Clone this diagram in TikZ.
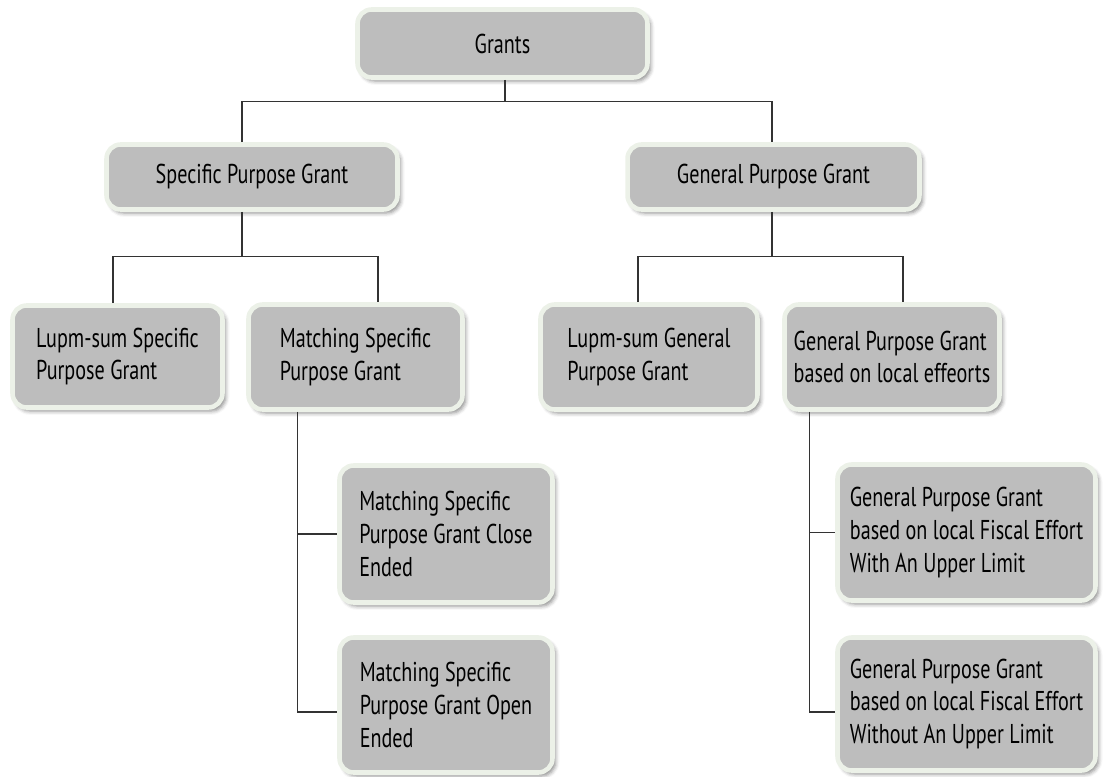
\documentclass[tikz,border=0pt]{standalone}
\usepackage{fontspec}
\setmainfont[FakeStretch=0.74]{PT Sans}
\usepackage{tikz}
\usetikzlibrary{shapes,arrows,positioning,shadows.blur,calc}
\definecolor{boxgray}{RGB}{189,189,189}
\definecolor{boxrim}{RGB}{236,241,232}
\definecolor{linegray}{RGB}{51,51,51}

\begin{document}
\begin{tikzpicture}[x=0.02cm, y=-0.02cm,
    grantbox/.style={draw=boxrim, fill=boxgray, line width=2.6pt, rounded corners=8pt, align=left, inner sep=2pt,
        font=\fontsize{15.5}{18.7}\selectfont, text=black,
        blur shadow={shadow xshift=1.8pt, shadow yshift=-2pt, shadow blur radius=2.2pt, shadow opacity=45}},
    conn/.style={draw=linegray, line width=0.8pt}]
    \useasboundingbox (0,0) rectangle (1106,777);

    % Grants
    \node[grantbox, minimum width=5.8cm, minimum height=1.36cm] (grants) at (502.5,43.5) {Grants};

    % Specific / General
    \node[grantbox, minimum width=5.82cm, minimum height=1.3cm] (spg) at (252,177) {Specific Purpose Grant};
    \node[grantbox, minimum width=5.84cm, minimum height=1.3cm] (gpg) at (773.5,177) {General Purpose Grant};

    % Third row
    \node[grantbox, minimum width=4.2cm, minimum height=2.04cm] (lsspg) at (117.5,356.5) {Lupm-sum Specific\\Purpose Grant};
    \node[grantbox, minimum width=4.28cm, minimum height=2.1cm] (mspg) at (355.5,357) {Matching Specific\\Purpose Grant};
    \node[grantbox, minimum width=4.34cm, minimum height=2.1cm] (lsgpg) at (649,357) {Lupm-sum General\\Purpose Grant};
    \node[grantbox, minimum width=4.3cm, minimum height=2.1cm] (gpgle) at (892,357) {General Purpose Grant\\based on local effeorts};

    % Matching children
    \node[grantbox, minimum width=4.26cm, minimum height=2.74cm] (closed) at (446,534) {Matching Specific\\Purpose Grant Close\\Ended};
    \node[grantbox, minimum width=4.26cm, minimum height=2.7cm] (opened) at (446,705) {Matching Specific\\Purpose Grant Open\\Ended};

    % Local effort children
    \node[grantbox, minimum width=5.16cm, minimum height=2.72cm] (withul) at (966.5,532.5) {General Purpose Grant\\based on local Fiscal Effort\\With An Upper Limit};
    \node[grantbox, minimum width=5.16cm, minimum height=2.66cm] (withoutul) at (966.5,704) {General Purpose Grant\\based on local Fiscal Effort\\Without An Upper Limit};

    % Connectors
    \coordinate (bus1) at ($(grants.south)+(0,22)$);
    \draw[conn] ($(grants.south)+(2.5,0)$) -- ($(bus1)+(2.5,0)$);
    \draw[conn] ($(spg.north)+(-10,0)$) |- ($(bus1)+(2.5,0)$) -| ($(gpg.north)+(-1.5,0)$);

    \draw[conn] ($(spg.south)+(-10,0)$) -- ++(0,45) coordinate (bus2);
    \draw[conn] ($(lsspg.north)+(-4.5,0)$) |- (bus2) -| ($(mspg.north)+(22.5,0)$);

    \draw[conn] ($(gpg.south)+(-1.5,0)$) -- ++(0,45) coordinate (bus3);
    \draw[conn] ($(lsgpg.north)+(-11,0)$) |- (bus3) -| ($(gpgle.north)+(11,0)$);

    \draw[conn] ($(mspg.south west)+(51,0)$) |- ($(opened.west)+(0,7)$);
    \draw[conn] ($(mspg.south west)+(51,0)$) |- (closed.west);

    \draw[conn] ($(gpgle.south west)+(27,0)$) |- ($(withoutul.west)+(0,8)$);
    \draw[conn] ($(gpgle.south west)+(27,0)$) |- (withul.west);
\end{tikzpicture}
\end{document}
